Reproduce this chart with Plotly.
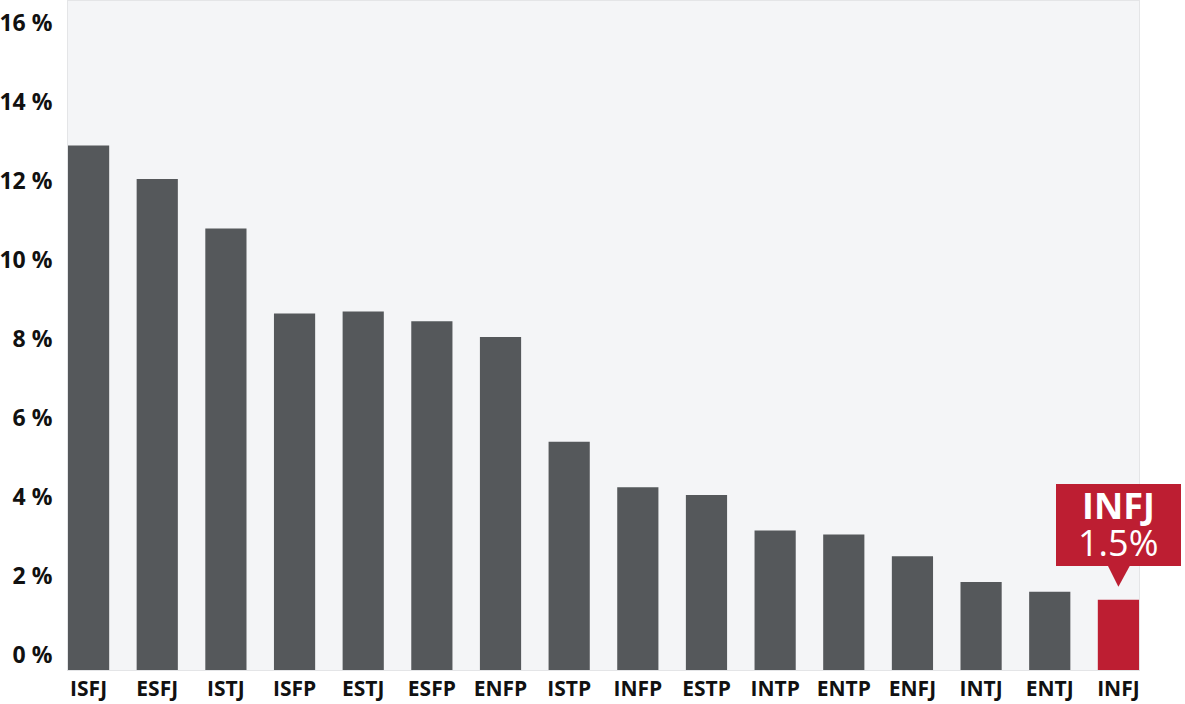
import plotly.graph_objects as go

types = ["ISFJ", "ESFJ", "ISTJ", "ISFP", "ESTJ", "ESFP", "ENFP", "ISTP",
         "INFP", "ESTP", "INTP", "ENTP", "ENFJ", "INTJ", "ENTJ", "INFJ"]
percent = [12.9, 12.05, 10.8, 8.65, 8.7, 8.45, 8.05, 5.4,
           4.25, 4.05, 3.15, 3.05, 2.5, 1.85, 1.6, 1.4]
highlight = "INFJ"
highlight_label = "1.5%"
y_ticks = [0, 2, 4, 6, 8, 10, 12, 14, 16]

GRAY = "#55585b"
RED = "#bd1e32"
Y_MIN, Y_MAX = -0.38, 16.56

colors = [RED if t == highlight else GRAY for t in types]
hi_val = percent[types.index(highlight)]

fig = go.Figure(go.Bar(
    x=types, y=[v - Y_MIN for v in percent], base=Y_MIN,
    marker=dict(color=colors, line=dict(width=0)),
    hoverinfo="skip",
))

# pointer triangle of the callout (pixel-sized, anchored at the highlighted bar)
fig.add_shape(
    type="path", xref="x", yref="y",
    xsizemode="pixel", ysizemode="pixel",
    xanchor=highlight, yanchor=hi_val,
    path="M -11,35 L 0,13 L 12,35 Z",
    fillcolor=RED, line=dict(width=0), layer="above",
)
# callout box with its two text lines (annotations are not clipped to the plot area)
fig.add_annotation(x=highlight, y=hi_val, xref="x", yref="y", text=" ",
                   showarrow=False, yanchor="bottom", yshift=34,
                   width=125, height=82, bgcolor=RED, borderpad=0, borderwidth=0,
                   font=dict(size=10, color=RED))
fig.add_annotation(x=highlight, y=hi_val, xref="x", yref="y", text="<b>INFJ</b>",
                   showarrow=False, yanchor="middle", yshift=94,
                   font=dict(family="Open Sans", size=36, color="white"))
fig.add_annotation(x=highlight, y=hi_val, xref="x", yref="y", text=highlight_label,
                   showarrow=False, yanchor="middle", yshift=57,
                   font=dict(family="Open Sans", size=36, color="white"))

fig.update_layout(
    width=1185, height=704,
    margin=dict(l=68, r=46, t=1, b=34, autoexpand=False),
    paper_bgcolor="white", plot_bgcolor="#f4f5f7",
    bargap=0.4, showlegend=False,
    font=dict(family="Open Sans", size=20, color="#111111"),
)
fig.update_xaxes(
    range=[-0.3, 15.3], showgrid=False, zeroline=False, automargin=False,
    showline=True, linecolor="#e4e5e7", linewidth=1, mirror=True,
    tickfont=dict(family="Open Sans", size=21, color="#111111", weight="bold"),
    ticks="", ticklabelstandoff=0,
)
fig.update_yaxes(
    range=[Y_MIN, Y_MAX], tickvals=y_ticks, ticktext=[f"{v} %" for v in y_ticks],
    showgrid=False, zeroline=False, automargin=False,
    showline=True, linecolor="#e4e5e7", linewidth=1, mirror=True,
    tickfont=dict(family="Open Sans", size=23, color="#111111", weight="bold"),
    ticks="", ticklabelstandoff=10,
)

fig.write_html(
    "out.html",
    config={"displayModeBar": False},
    post_script="document.body.style.margin='0';document.body.style.overflow='hidden';",
)
